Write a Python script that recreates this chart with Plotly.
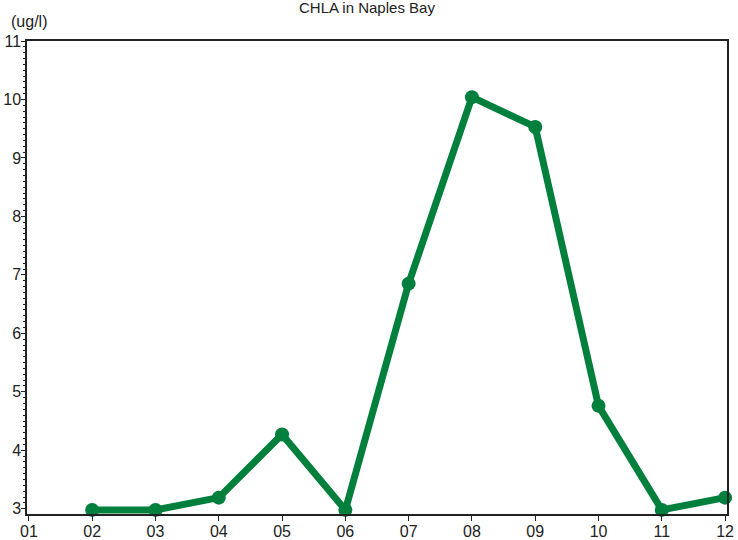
import plotly.graph_objects as go

months = ["01", "02", "03", "04", "05", "06", "07", "08", "09", "10", "11", "12"]
x_months = [2, 3, 4, 5, 6, 7, 8, 9, 10, 11, 12]
chla = [2.98, 2.98, 3.19, 4.27, 2.98, 6.85, 10.04, 9.53, 4.76, 2.98, 3.19]
y_ticks = [3, 4, 5, 6, 7, 8, 9, 10, 11]

green = "#007f3d"
font = "Liberation Sans, Arial, sans-serif"
txt = "#222222"

fig = go.Figure()
fig.add_trace(go.Scatter(
    x=x_months, y=chla, mode="lines+markers",
    line=dict(color=green, width=7),
    marker=dict(color=green, size=14),
    cliponaxis=False, showlegend=False,
))

fig.update_layout(
    width=738, height=540,
    margin=dict(l=27, r=11, t=41, b=26, autoexpand=False),
    paper_bgcolor="white", plot_bgcolor="white",
    font=dict(family=font, size=16, color=txt),
    annotations=[
        dict(text="CHLA in Naples Bay", xref="paper", yref="paper", x=0.486, y=1.0, yshift=34,
             xanchor="center", yanchor="middle", showarrow=False,
             font=dict(family=font, size=15, color=txt)),
        dict(text="(ug/l)", xref="paper", yref="paper", x=-0.026, y=1.0, yshift=20,
             xanchor="left", yanchor="middle", showarrow=False,
             font=dict(family=font, size=16, color=txt)),
    ],
    xaxis=dict(
        range=[0.97, 12.03], tickmode="array", tickvals=list(range(1, 13)), ticktext=months,
        ticks="outside", ticklen=5, tickcolor=txt, showgrid=False, zeroline=False, automargin=False,
        showline=True, linecolor=txt, linewidth=1.5, mirror=True, ticklabelstandoff=-3,
    ),
    yaxis=dict(
        range=[2.91, 11.0], tickmode="array", tickvals=y_ticks, ticktext=[str(v) for v in y_ticks],
        ticks="outside", ticklen=4, tickcolor=txt, showgrid=False, zeroline=False, automargin=False,
        showline=True, linecolor=txt, linewidth=1.5, mirror=True, ticklabelstandoff=-3,
        minor=dict(ticks="outside", ticklen=2, dtick=0.1, tickcolor=txt, showgrid=False),
    ),
)

fig.write_html("out.html", config={"displayModeBar": False},
               post_script="document.body.style.margin='0';")
